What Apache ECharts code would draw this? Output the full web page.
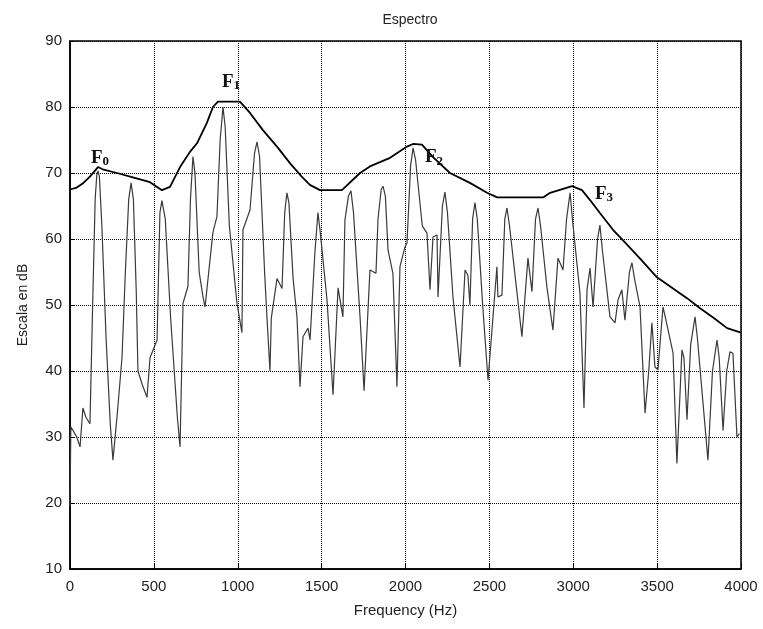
<!DOCTYPE html>
<html>
<head>
<meta charset="utf-8">
<script src="https://cdn.jsdelivr.net/npm/echarts@6/dist/echarts.min.js"></script>
<style>
  html, body { margin: 0; padding: 0; background: #fff; }
  #chart { width: 763px; height: 629px; }
</style>
</head>
<body>
<div id="chart"></div>
<script>
// ---- Data (frequency in Hz, level in dB) ----
const xTicks = [0, 500, 1000, 1500, 2000, 2500, 3000, 3500, 4000];
const yTicks = [10, 20, 30, 40, 50, 60, 70, 80, 90];

const spectrumHz = [0, 5, 18, 40, 60, 77, 95, 119, 135, 150, 160, 167, 175, 190, 215, 240, 256, 280, 310, 330, 350, 364, 378, 395, 405, 430, 459, 477, 519, 536, 548, 556, 568, 600, 640, 656, 674, 703, 718, 733, 745, 770, 793, 805, 852, 876, 895, 912, 925, 950, 995, 1025, 1031, 1073, 1100, 1115, 1130, 1160, 1174, 1192, 1200, 1234, 1264, 1280, 1293, 1305, 1330, 1353, 1371, 1389, 1419, 1431, 1460, 1478, 1492, 1532, 1568, 1598, 1627, 1639, 1660, 1675, 1690, 1729, 1753, 1788, 1824, 1836, 1855, 1866, 1880, 1896, 1925, 1949, 1967, 1997, 2009, 2030, 2045, 2060, 2100, 2128, 2146, 2164, 2188, 2194, 2220, 2235, 2250, 2283, 2325, 2355, 2372, 2384, 2400, 2414, 2428, 2460, 2492, 2545, 2551, 2575, 2592, 2605, 2620, 2694, 2730, 2754, 2775, 2790, 2805, 2843, 2879, 2909, 2939, 2960, 2981, 2995, 3040, 3064, 3082, 3100, 3118, 3145, 3159, 3175, 3219, 3249, 3267, 3290, 3308, 3335, 3350, 3365, 3398, 3428, 3450, 3469, 3487, 3505, 3535, 3550, 3595, 3618, 3648, 3660, 3678, 3700, 3726, 3740, 3803, 3830, 3857, 3870, 3893, 3915, 3934, 3952, 3976, 3990];
const spectrumDb = [19.5, 31.5, 31, 30, 28.5, 34.4, 33, 32, 50, 66, 69.8, 70.3, 69.5, 62, 45, 32, 26.5, 33, 42, 55, 66, 68.5, 66, 52, 40, 38, 36, 42, 44.7, 64, 65.8, 66, 63, 48, 33, 28.5, 50.3, 52.8, 66, 72.5, 70, 55, 51.2, 49.7, 61, 63.4, 75, 80, 77, 62, 50.3, 45.8, 61.4, 64.4, 73, 74.7, 72.5, 55, 48.2, 40, 48, 54, 52.5, 64, 67, 65.5, 54, 48.2, 37.6, 45.2, 46.5, 44.7, 58, 64, 61, 50.8, 36.4, 52.6, 48.2, 62.9, 66.5, 67.3, 64, 48.2, 37, 55.3, 54.8, 63, 67.5, 68, 66.5, 58.3, 54.8, 37.6, 55.8, 58.8, 59.4, 71, 73.8, 72, 62, 60.9, 52.3, 60.3, 60.6, 51.2, 65, 67.1, 64, 51.2, 40.6, 55.3, 54.5, 50, 63, 65.5, 63, 50, 38.6, 55.8, 51.2, 51.5, 63, 64.7, 62, 45.2, 57.1, 52, 63, 64.7, 62, 52.7, 46.2, 57.1, 55.3, 63, 67, 63, 51.8, 34.4, 52.3, 55.6, 49.7, 60, 62.1, 58, 48.2, 47.3, 50.8, 52.3, 47.7, 55, 56.4, 54, 49.7, 33.6, 40, 47.3, 40.6, 40.2, 49.7, 48, 42.7, 26, 43.2, 42, 32.6, 44, 48.2, 45, 26.5, 40, 44.7, 42, 31, 40, 42.9, 42.7, 30, 30.5];

const envelopeHz = [0, 40, 80, 120, 167, 200, 280, 380, 477, 548, 596, 656, 715, 757, 816, 852, 882, 1013, 1073, 1150, 1234, 1311, 1380, 1430, 1490, 1621, 1729, 1788, 1908, 2009, 2045, 2098, 2164, 2265, 2384, 2486, 2546, 2820, 2862, 2993, 3052, 3100, 3160, 3237, 3297, 3400, 3499, 3595, 3680, 3756, 3840, 3917, 4000];
const envelopeDb = [67.5, 67.8, 68.5, 69.5, 70.9, 70.5, 70, 69.3, 68.6, 67.4, 67.9, 70.9, 73.2, 74.5, 77.6, 80, 80.8, 80.8, 79.1, 76.5, 74, 71.5, 69.5, 68.2, 67.4, 67.4, 70, 71, 72.3, 74, 74.4, 74.3, 72.4, 70, 68.5, 67, 66.3, 66.3, 67, 68, 67.4, 65.9, 63.9, 61.4, 59.8, 57, 54.2, 52.5, 51, 49.5, 48, 46.5, 45.8];

// formant labels: name, subscript, anchor frequency, anchor level
const formantNames = ['F', 'F', 'F', 'F'];
const formantSubs = ['0', '1', '2', '3'];
const formantHz = [179, 960, 2170, 3183];
const formantDb = [72.3, 83.8, 72.4, 66.8];

// ---- Build ----
const spectrum = spectrumHz.map((x, i) => [x, spectrumDb[i]]);
const envelope = envelopeHz.map((x, i) => [x, envelopeDb[i]]);
const formants = formantHz.map((x, i) => ({
  coord: [x, formantDb[i]],
  label: { formatter: '{f|' + formantNames[i] + '}{s|' + formantSubs[i] + '}' }
}));

const font = '"Liberation Sans", Arial, sans-serif';
const chart = echarts.init(document.getElementById('chart'), null, { renderer: 'canvas' });
chart.setOption({
  animation: false,
  backgroundColor: '#fff',
  title: {
    text: 'Espectro',
    left: 405, textAlign: 'center', top: 8,
    textStyle: { fontFamily: font, fontSize: 14, fontWeight: 'normal', color: '#222' }
  },
  grid: { left: 70, right: 22, top: 41, bottom: 60, show: true, borderColor: '#000', borderWidth: 1.5, backgroundColor: 'transparent' },
  xAxis: {
    type: 'value', min: 0, max: 4000, interval: 500,
    name: 'Frequency (Hz)', nameLocation: 'middle', nameGap: 34,
    nameTextStyle: { fontFamily: font, fontSize: 15, color: '#222' },
    axisLine: { show: true, lineStyle: { color: '#000', width: 1.5 } },
    axisTick: { show: true, inside: true, length: 5, lineStyle: { color: '#000' } },
    axisLabel: { fontFamily: font, fontSize: 15, color: '#222', margin: 10, formatter: v => xTicks.includes(v) ? String(v) : '' },
    splitLine: { show: true, lineStyle: { color: '#000', type: 'dotted', width: 1 } }
  },
  yAxis: {
    type: 'value', min: 10, max: 90, interval: 10,
    name: 'Escala en dB', nameLocation: 'middle', nameGap: 40,
    nameTextStyle: { fontFamily: font, fontSize: 14, color: '#222' },
    axisLine: { show: true, lineStyle: { color: '#000', width: 1.5 } },
    axisTick: { show: true, inside: true, length: 5, lineStyle: { color: '#000' } },
    axisLabel: { fontFamily: font, fontSize: 15, color: '#222', margin: 8, formatter: v => yTicks.includes(v) ? String(v) : '' },
    splitLine: { show: true, lineStyle: { color: '#000', type: 'dotted', width: 1 } }
  },
  series: [
    {
      type: 'line', data: spectrum, showSymbol: false, smooth: false,
      lineStyle: { color: '#3a3a3a', width: 1.2 }, z: 3
    },
    {
      type: 'line', data: envelope, showSymbol: false, smooth: false,
      lineStyle: { color: '#000', width: 1.8 }, z: 4,
      markPoint: {
        symbol: 'circle', symbolSize: 0, silent: true,
        label: {
          show: true, position: 'inside',
          rich: {
            f: { fontFamily: '"Liberation Serif", "Times New Roman", serif', fontWeight: 'bold', fontSize: 19, color: '#111' },
            s: { fontFamily: '"Liberation Serif", "Times New Roman", serif', fontWeight: 'bold', fontSize: 13, color: '#111', verticalAlign: 'bottom', padding: [8, 0, 0, 0] }
          }
        },
        data: formants
      }
    }
  ]
});
</script>
</body>
</html>
